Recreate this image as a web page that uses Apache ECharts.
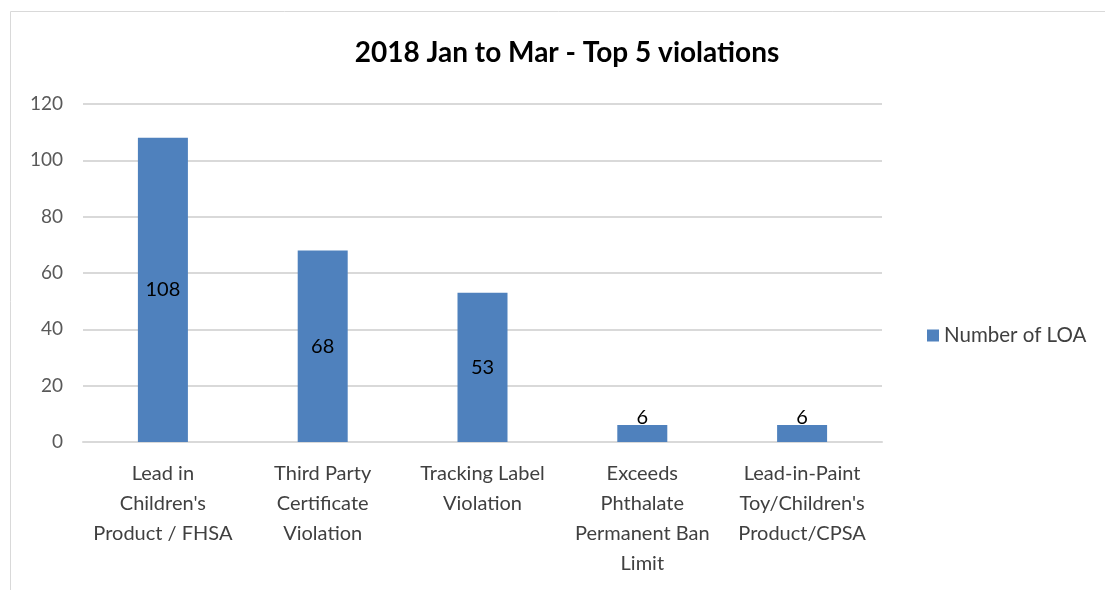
<!DOCTYPE html>
<html>
<head>
<meta charset="utf-8">
<script src="https://cdn.jsdelivr.net/npm/echarts@6/dist/echarts.min.js"></script>
<style>
  html, body { margin: 0; padding: 0; background: #fff; }
  #chart { width: 1105px; height: 590px; }
</style>
</head>
<body>
<div id="chart"></div>
<script>
const categories = [
  'Lead in\nChildren\'s\nProduct / FHSA',
  'Third Party\nCertificate\nViolation',
  'Tracking Label\nViolation',
  'Exceeds\nPhthalate\nPermanent Ban\nLimit',
  'Lead-in-Paint\nToy/Children\'s\nProduct/CPSA'
]
const loaCounts = [108, 68, 53, 6, 6]
const seriesName = 'Number of LOA'

const font = 'Lato, "Open Sans", sans-serif'
const myChart = echarts.init(document.getElementById('chart'))
myChart.setOption({
  animation: false,
  textStyle: { fontFamily: font },
  graphic: [{
    type: 'rect',
    shape: { x: 10.5, y: 11.5, width: 1110, height: 600 },
    style: { fill: 'none', stroke: '#d9d9d9', lineWidth: 1 },
    silent: true
  }],
  title: {
    text: '2018 Jan to Mar - Top 5 violations',
    left: 562,
    textAlign: 'center',
    top: 34,
    textStyle: { fontFamily: font, fontSize: 28, fontWeight: 'bold', color: '#000' }
  },
  legend: {
    left: 922,
    top: 320,
    itemWidth: 12,
    itemHeight: 12,
    itemGap: 8,
    icon: 'rect',
    textStyle: { fontFamily: font, fontSize: 20.5, color: '#404040' },
    data: [seriesName]
  },
  grid: { left: 83, right: 223, top: 104, bottom: 148, containLabel: false },
  xAxis: {
    type: 'category',
    data: categories,
    axisLine: { lineStyle: { color: '#d9d9d9', width: 2 } },
    axisTick: { show: false },
    axisLabel: {
      interval: 0,
      margin: 17,
      fontFamily: font,
      fontSize: 20,
      lineHeight: 30,
      color: '#404040'
    }
  },
  yAxis: {
    type: 'value',
    min: 0,
    max: 120,
    interval: 20,
    axisLine: { show: false },
    axisTick: { show: false },
    axisLabel: { margin: 20, fontFamily: font, fontSize: 19, color: '#595959' },
    splitLine: { lineStyle: { color: '#d9d9d9', width: 2 } }
  },
  series: [{
    name: seriesName,
    type: 'bar',
    barWidth: 50,
    itemStyle: { color: '#4f81bd' },
    label: {
      show: true,
      position: 'inside',
      fontFamily: font,
      fontSize: 20,
      color: '#000'
    },
    data: loaCounts.map(v => ({
      value: v,
      label: v < 10 ? { position: 'top', distance: -2 } : {}
    }))
  }]
})
</script>
</body>
</html>
